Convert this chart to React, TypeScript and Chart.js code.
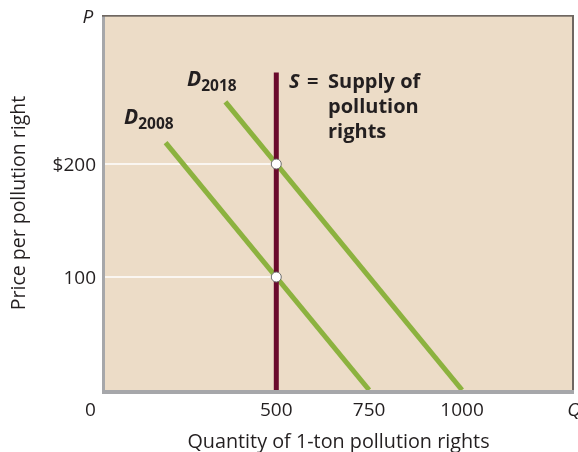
import React, { useEffect, useRef } from "react";
import { Chart, registerables } from "chart.js";

Chart.register(...registerables);

// ---- data ----
const d2008Q = [202, 750];
const d2008P = [219, 0];
const d2018Q = [363, 1000];
const d2018P = [255, 0];
const supplyQ = [500, 500];
const supplyP = [0, 281];
const equilibriumQ = [500, 500];
const equilibriumP = [100, 200];
const xTickValues = [0, 500, 750, 1000];
const xTickLabels = ["0", "500", "750", "1000"];
const yTickValues = [100, 200];
const yTickLabels = ["100", "$200"];
const xAxisTitle = "Quantity of 1-ton pollution rights";
const yAxisTitle = "Price per pollution right";

const X_MIN = 38.9;
const X_MAX = 1296;
const Y_MIN = 0;
const Y_MAX = 331;

const BG = "#ecdcc7";
const GREEN = "#8cb23f";
const MAROON = "#6a0a2c";
const TEXT = "#231f20";
const FONT = "'Open Sans', 'DejaVu Sans', sans-serif";

const pts = (qs: number[], ps: number[]) => qs.map((q, i) => ({ x: q, y: ps[i] }));

export default function App() {
  const ref = useRef<HTMLCanvasElement | null>(null);

  useEffect(() => {
    if (!ref.current) return;

    const plugin = {
      id: "econ",
      beforeDatasetsDraw(chart: any) {
        const { ctx, chartArea: a, scales } = chart;
        ctx.save();
        ctx.fillStyle = BG;
        ctx.fillRect(a.left, a.top, a.right - a.left, a.bottom - a.top);
        // white guide lines to equilibrium points
        ctx.strokeStyle = "#ffffff";
        ctx.lineWidth = 1.5;
        equilibriumP.forEach((p, i) => {
          const y = scales.y.getPixelForValue(p);
          const x = scales.x.getPixelForValue(equilibriumQ[i]);
          ctx.beginPath();
          ctx.moveTo(a.left, y);
          ctx.lineTo(x, y);
          ctx.stroke();
        });
        ctx.restore();
      },
      afterDraw(chart: any) {
        const { ctx, chartArea: a, scales } = chart;
        ctx.save();
        // frame
        ctx.fillStyle = "#a6a7aa";
        ctx.fillRect(a.left - 3, a.top - 1, 3, a.bottom - a.top + 5);
        ctx.fillRect(a.left - 3, a.bottom, a.right - a.left + 5, 4);
        ctx.fillStyle = "#6f6761";
        ctx.fillRect(a.left - 3, a.top - 1, a.right - a.left + 5, 1.7);
        ctx.fillRect(a.right, a.top - 1, 2, a.bottom - a.top + 1);

        ctx.fillStyle = TEXT;
        // x tick labels
        ctx.font = `19px ${FONT}`;
        ctx.textAlign = "center";
        ctx.textBaseline = "middle";
        xTickValues.forEach((v, i) => {
          ctx.fillText(xTickLabels[i], scales.x.getPixelForValue(v), 411);
        });
        // y tick labels
        ctx.textAlign = "right";
        yTickValues.forEach((v, i) => {
          ctx.fillText(yTickLabels[i], 96, scales.y.getPixelForValue(v) + 2);
        });
        // axis letters
        ctx.font = `italic 19px ${FONT}`;
        ctx.textAlign = "center";
        ctx.fillText("Q", 574, 411);
        ctx.fillText("P", 88, 18);
        // axis titles
        ctx.font = `19.8px ${FONT}`;
        ctx.fillText(xAxisTitle, (a.left + a.right) / 2, 442);
        ctx.font = `19.5px ${FONT}`;
        ctx.save();
        ctx.translate(19, 203);
        ctx.rotate(-Math.PI / 2);
        ctx.fillText(yAxisTitle, 0, 0);
        ctx.restore();

        // curve labels
        ctx.textAlign = "left";
        ctx.textBaseline = "alphabetic";
        const dLabel = (x: number, y: number, sub: string) => {
          ctx.font = `italic bold 21px ${FONT}`;
          ctx.fillText("D", x, y);
          const w = ctx.measureText("D").width;
          ctx.font = `bold 15.5px ${FONT}`;
          ctx.fillText(sub, x + w, y + 5);
        };
        dLabel(187, 86, "2018");
        dLabel(124, 124, "2008");

        ctx.font = `italic bold 20px ${FONT}`;
        ctx.fillText("S", 289, 88);
        ctx.font = `bold 20px ${FONT}`;
        ctx.fillText("=", 307, 88);
        ctx.fillText("Supply of", 328, 88);
        ctx.fillText("pollution", 328, 113);
        ctx.fillText("rights", 328, 138);
        ctx.restore();
      },
    };

    const chart = new Chart(ref.current, {
      type: "scatter",
      data: {
        datasets: [
          {
            label: "Equilibrium",
            data: pts(equilibriumQ, equilibriumP),
            showLine: false,
            pointRadius: 5,
            pointBackgroundColor: "#ffffff",
            pointBorderColor: "#6e6e6e",
            pointBorderWidth: 1,
            order: 0,
          },
          {
            label: "Supply",
            data: pts(supplyQ, supplyP),
            showLine: true,
            borderColor: MAROON,
            borderWidth: 5,
            pointRadius: 0,
            borderCapStyle: "butt",
            order: 1,
          },
          {
            label: "D2018",
            data: pts(d2018Q, d2018P),
            showLine: true,
            borderColor: GREEN,
            borderWidth: 5,
            pointRadius: 0,
            borderCapStyle: "butt",
            order: 2,
          },
          {
            label: "D2008",
            data: pts(d2008Q, d2008P),
            showLine: true,
            borderColor: GREEN,
            borderWidth: 5,
            pointRadius: 0,
            borderCapStyle: "butt",
            order: 3,
          },
        ],
      },
      options: {
        animation: false,
        responsive: false,
        maintainAspectRatio: false,
        layout: { padding: { left: 105, right: 4, top: 16, bottom: 62 } },
        plugins: { legend: { display: false }, tooltip: { enabled: false } },
        scales: {
          x: { type: "linear", min: X_MIN, max: X_MAX, display: false },
          y: { type: "linear", min: Y_MIN, max: Y_MAX, display: false },
        },
      },
      plugins: [plugin],
    } as any);

    return () => chart.destroy();
  }, []);

  return (
    <div style={{ position: "fixed", left: 0, top: 0, width: 578, height: 452, background: "#ffffff" }}>
      <canvas ref={ref} width={578} height={452} style={{ width: 578, height: 452, display: "block" }} />
    </div>
  );
}
